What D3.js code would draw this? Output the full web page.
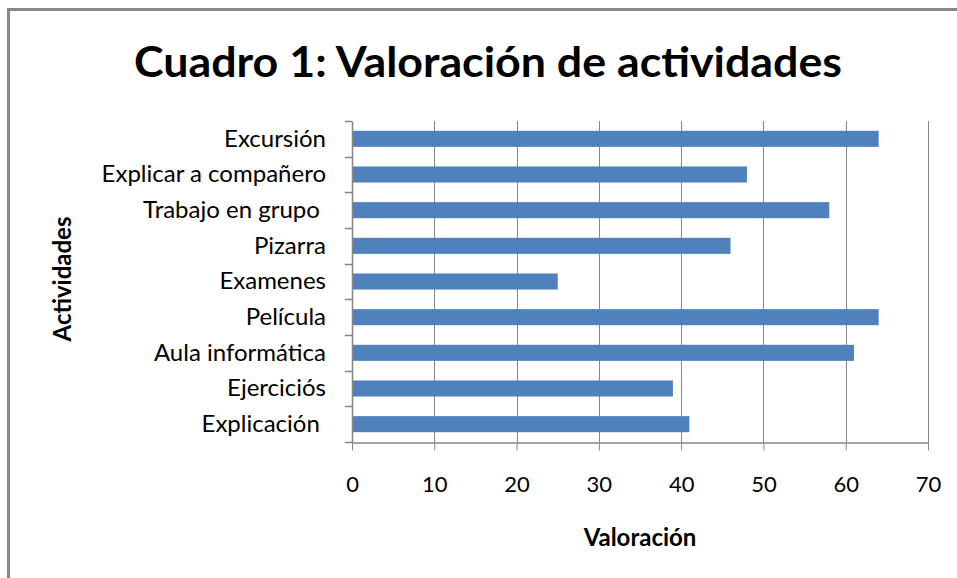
<!DOCTYPE html>
<html>
<head>
<meta charset="utf-8">
<script src="https://d3js.org/d3.v7.min.js"></script>
<style>
  body { margin: 0; background: #fff; }
  svg { display: block; }
  text { white-space: pre; }
</style>
</head>
<body>
<div id="chart"></div>
<script>
// data
var activities = ["Excursión", "Explicar a compañero", "Trabajo en grupo ", "Pizarra",
  "Examenes", "Película", "Aula informática", "Ejerciciós", "Explicación "];
var ratings = [64, 48, 58, 46, 25, 64, 61, 39, 41];
var xTicks = [0, 10, 20, 30, 40, 50, 60, 70];

var width = 957, height = 578;
var plot_left = 352, plot_right = 928, plot_top = 121, plot_bottom = 442;
var grid_color = '#868686';
var bar_color = '#4f81bd';
var font = "Lato, 'Open Sans', sans-serif";
var label_size = 24;

var svg = d3.select('#chart')
  .append('svg')
  .attr('width', width)
  .attr('height', height);

// outer frame (right/bottom edges fall outside the picture)
svg.append('path')
  .attr('d', 'M8.5,' + (height + 5) + ' L8.5,9.5 L' + (width + 5) + ',9.5')
  .attr('fill', 'none')
  .attr('stroke', '#888888')
  .attr('stroke-width', 3);

var x = d3.scaleLinear().domain([0, 70]).range([plot_left, plot_right]);
var y = d3.scaleBand().domain(activities).range([plot_top, plot_bottom]).paddingInner(0.55).paddingOuter(0.275);

// vertical gridlines
svg.selectAll('.grid')
  .data(xTicks.slice(1))
  .enter()
  .append('line')
  .attr('class', 'grid')
  .attr('x1', function (d) {return Math.round(x(d)) + 0.5;})
  .attr('x2', function (d) {return Math.round(x(d)) + 0.5;})
  .attr('y1', plot_top)
  .attr('y2', plot_bottom)
  .attr('stroke', grid_color)
  .attr('stroke-width', 1);

// bars
svg.selectAll('.bar')
  .data(ratings)
  .enter()
  .append('rect')
  .attr('class', 'bar')
  .attr('x', x(0) + 1)
  .attr('y', function (d, i) {return y(activities[i]);})
  .attr('width', function (d) {return x(d) - x(0) - 1;})
  .attr('height', y.bandwidth())
  .attr('fill', bar_color);

// x axis
var xAxis = svg.append('g')
  .attr('transform', 'translate(0,' + (plot_bottom + 0.5) + ')')
  .call(d3.axisBottom(x).tickValues(xTicks).tickSize(8).tickPadding(26).tickSizeOuter(0));
xAxis.select('.domain').attr('stroke', grid_color).attr('stroke-width', 1.5);
xAxis.selectAll('.tick line').attr('stroke', grid_color);
xAxis.selectAll('.tick text')
  .attr('font-family', font)
  .attr('font-size', 22)
  .attr('fill', '#000');

// y axis: ticks sit on band boundaries
var yAxis = svg.append('g')
  .attr('transform', 'translate(' + plot_left + ',0)')
  .call(d3.axisLeft(y).tickSize(0).tickPadding(26));
yAxis.select('.domain').attr('stroke', grid_color).attr('stroke-width', 1.5);
yAxis.selectAll('.tick text')
  .attr('font-family', font)
  .attr('font-size', label_size)
  .attr('fill', '#000');

var step = (plot_bottom - plot_top) / activities.length;
svg.selectAll('.ytick')
  .data(d3.range(activities.length + 1))
  .enter()
  .append('line')
  .attr('class', 'ytick')
  .attr('x1', plot_left - 7)
  .attr('x2', plot_left)
  .attr('y1', function (i) {return Math.round(plot_top + i * step) + 0.5;})
  .attr('y2', function (i) {return Math.round(plot_top + i * step) + 0.5;})
  .attr('stroke', grid_color)
  .attr('stroke-width', 1.5);

// title
svg.append('text')
  .attr('x', 488)
  .attr('y', 77)
  .attr('text-anchor', 'middle')
  .attr('font-family', font)
  .attr('font-weight', 'bold')
  .attr('font-size', 42)
  .attr('textLength', 708)
  .attr('lengthAdjust', 'spacingAndGlyphs')
  .text('Cuadro 1: Valoración de actividades');

// axis titles
svg.append('text')
  .attr('x', 640)
  .attr('y', 546)
  .attr('text-anchor', 'middle')
  .attr('font-family', font)
  .attr('font-weight', 'bold')
  .attr('font-size', label_size)
  .text('Valoración');

svg.append('text')
  .attr('transform', 'translate(71,279) rotate(-90)')
  .attr('text-anchor', 'middle')
  .attr('font-family', font)
  .attr('font-weight', 'bold')
  .attr('font-size', label_size)
  .text('Actividades');
</script>
</body>
</html>
